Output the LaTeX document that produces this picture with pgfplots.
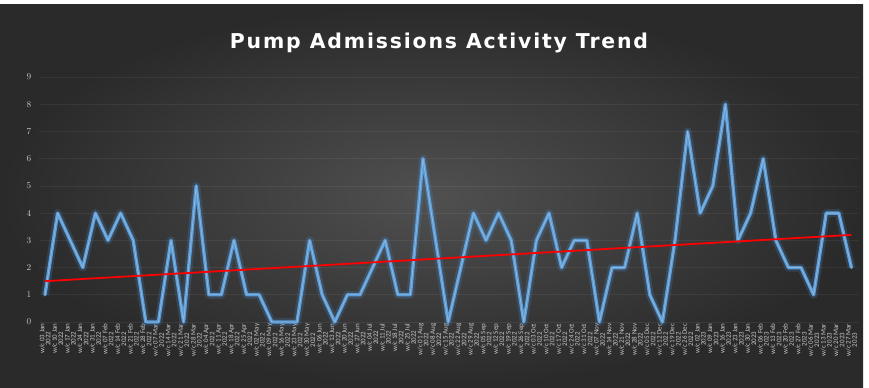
\documentclass[border=0pt]{standalone}
\usepackage{pgfplots}
\pgfplotsset{compat=1.18}
\usepackage{pgfplotstable}
\usepackage{fontspec}
\setmainfont{Carlito}
\newfontfamily\titlefont[LetterSpace=9]{DejaVu Sans}

\definecolor{bgcenter}{HTML}{505050}
\definecolor{bgedge}{HTML}{2A2A2A}
\definecolor{pumpblue}{HTML}{5B9BD5}
\definecolor{pumpglow}{HTML}{4A86C8}
\definecolor{ticktext}{HTML}{C8C8C8}

% weekly admission counts
\pgfplotstableread{
idx count
0 1
1 4
2 3
3 2
4 4
5 3
6 4
7 3
8 0
9 0
10 3
11 0
12 5
13 1
14 1
15 3
16 1
17 1
18 0
19 0
20 0
21 3
22 1
23 0
24 1
25 1
26 2
27 3
28 1
29 1
30 6
31 3
32 0
33 2
34 4
35 3
36 4
37 3
38 0
39 3
40 4
41 2
42 3
43 3
44 0
45 2
46 2
47 4
48 1
49 0
50 3
51 7
52 4
53 5
54 8
55 3
56 4
57 6
58 3
59 2
60 2
61 1
62 4
63 4
64 2
}\admissions

% linear trend endpoints
\pgfplotstableread{
idx trend
0 1.50
64 3.20
}\trendline

\begin{document}
\begin{tikzpicture}[x=1bp,y=1bp]
\fill[white] (0,0) rectangle (869,387);
\shade[inner color=bgcenter, outer color=bgedge] (0,0) rectangle (863,382);
\useasboundingbox (0,0) rectangle (869,387);
\node[text=white, font=\titlefont\bfseries\fontsize{20.5}{22}\selectfont] at (439,344) {Pump Admissions Activity Trend};
\begin{axis}[
  at={(38.7bp,65bp)}, anchor=south west,
  scale only axis, width=819bp, height=245bp,
  xmin=-0.5, xmax=64.5, ymin=0, ymax=9,
  clip=false,
  axis line style={draw=none}, tick style={draw=none},
  ytick={0,...,9},
  ymajorgrids, grid style={white, opacity=0.06, line width=0.6bp},
  xtick={0,...,64},
  xticklabels={
    {w/c 03 Jan\\2022},{w/c 10 Jan\\2022},{w/c 17 Jan\\2022},{w/c 24 Jan\\2022},{w/c 31 Jan\\2022},
    {w/c 07 Feb\\2022},{w/c 14 Feb\\2022},{w/c 21 Feb\\2022},{w/c 28 Feb\\2022},{w/c 07 Mar\\2022},
    {w/c 14 Mar\\2022},{w/c 21 Mar\\2022},{w/c 28 Mar\\2022},{w/c 04 Apr\\2022},{w/c 11 Apr\\2022},
    {w/c 18 Apr\\2022},{w/c 25 Apr\\2022},{w/c 02 May\\2022},{w/c 09 May\\2022},{w/c 16 May\\2022},
    {w/c 23 May\\2022},{w/c 30 May\\2022},{w/c 06 Jun\\2022},{w/c 13 Jun\\2022},{w/c 20 Jun\\2022},
    {w/c 27 Jun\\2022},{w/c 04 Jul\\2022},{w/c 11 Jul\\2022},{w/c 18 Jul\\2022},{w/c 25 Jul\\2022},
    {w/c 01 Aug\\2022},{w/c 08 Aug\\2022},{w/c 15 Aug\\2022},{w/c 22 Aug\\2022},{w/c 29 Aug\\2022},
    {w/c 05 Sep\\2022},{w/c 12 Sep\\2022},{w/c 19 Sep\\2022},{w/c 26 Sep\\2022},{w/c 03 Oct\\2022},
    {w/c 10 Oct\\2022},{w/c 17 Oct\\2022},{w/c 24 Oct\\2022},{w/c 31 Oct\\2022},{w/c 07 Nov\\2022},
    {w/c 14 Nov\\2022},{w/c 21 Nov\\2022},{w/c 28 Nov\\2022},{w/c 05 Dec\\2022},{w/c 12 Dec\\2022},
    {w/c 19 Dec\\2022},{w/c 26 Dec\\2022},{w/c 02 Jan\\2023},{w/c 09 Jan\\2023},{w/c 16 Jan\\2023},
    {w/c 23 Jan\\2023},{w/c 30 Jan\\2023},{w/c 06 Feb\\2023},{w/c 13 Feb\\2023},{w/c 20 Feb\\2023},
    {w/c 27 Feb\\2023},{w/c 06 Mar\\2023},{w/c 13 Mar\\2023},{w/c 20 Mar\\2023},{w/c 27 Mar\\2023}},
  xticklabel style={rotate=90, anchor=east, align=center, text=ticktext,
    font=\fontsize{7}{6.2}\selectfont, inner sep=1.5bp},
  yticklabel style={text=ticktext, font=\fontsize{9.5}{10}\selectfont, xshift=-4bp},
  xtick pos=bottom, ytick pos=left,
]
\addplot[pumpglow, line width=8bp, opacity=0.22, line join=round] table[x=idx, y=count] {\admissions};
\addplot[pumpblue, line width=3.4bp, line join=round, line cap=round] table[x=idx, y=count] {\admissions};
\addplot[pumpblue!50!white, line width=0.9bp, line join=round, opacity=0.55] table[x=idx, y=count] {\admissions};
\addplot[red, line width=1.8bp] table[x=idx, y=trend] {\trendline};
\end{axis}
\end{tikzpicture}
\end{document}
